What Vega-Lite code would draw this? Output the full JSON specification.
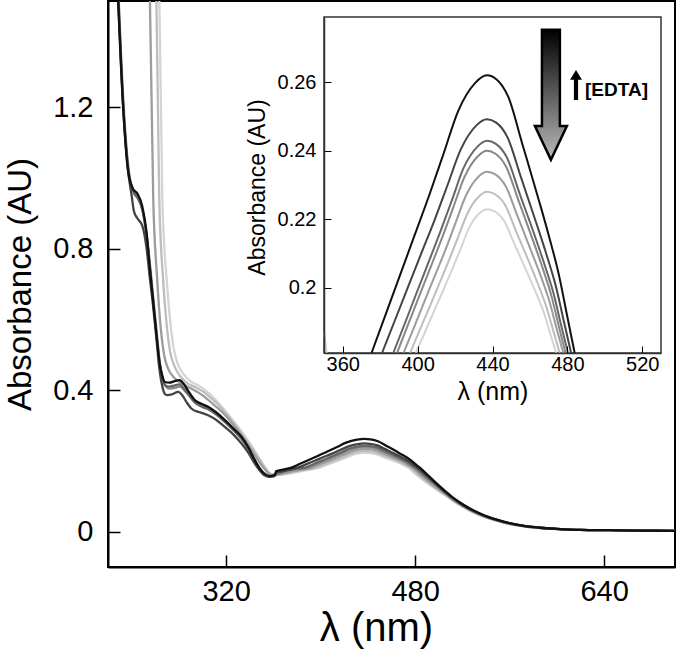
{
"$schema":"https://vega.github.io/schema/vega-lite/v6.json",
"width":567,"height":566,
"autosize":{"type":"none"},
"padding":{"left":108,"top":1,"right":1,"bottom":88},
"background":"white",
"config":{"view":{"stroke":"black","strokeWidth":2},"font":"Liberation Sans","axis":{"grid":false,"labelColor":"black","titleColor":"black","titleFontWeight":"normal","tickColor":"black","domainColor":"black","labelFont":"Liberation Sans","titleFont":"Liberation Sans"}},
"datasets":{
"main":[
{"s":"c7","w":263,"a":1.6},{"s":"c7","w":266,"a":0.94},{"s":"c7","w":269.5,"a":0.72},{"s":"c7","w":272.5,"a":0.6},{"s":"c7","w":275.5,"a":0.52},{"s":"c7","w":279,"a":0.475},{"s":"c7","w":284,"a":0.445},{"s":"c7","w":290,"a":0.425},{"s":"c7","w":297,"a":0.412},{"s":"c7","w":303,"a":0.398},{"s":"c7","w":309,"a":0.38},{"s":"c7","w":315,"a":0.358},{"s":"c7","w":321,"a":0.335},{"s":"c7","w":328,"a":0.305},{"s":"c7","w":335,"a":0.274},{"s":"c7","w":342,"a":0.24},{"s":"c7","w":349,"a":0.203},{"s":"c7","w":355,"a":0.173},{"s":"c7","w":359,"a":0.161},{"s":"c7","w":364,"a":0.16},{"s":"c7","w":374,"a":0.164},{"s":"c7","w":387,"a":0.173},{"s":"c7","w":399,"a":0.181},{"s":"c7","w":403.8,"a":0.1869},{"s":"c7","w":408.5,"a":0.1929},{"s":"c7","w":413.3,"a":0.1988},{"s":"c7","w":418,"a":0.2048},{"s":"c7","w":422.8,"a":0.2111},{"s":"c7","w":427.5,"a":0.2175},{"s":"c7","w":433.2,"a":0.2218},{"s":"c7","w":437,"a":0.2229},{"s":"c7","w":441.1,"a":0.2223},{"s":"c7","w":446.1,"a":0.2196},{"s":"c7","w":451.8,"a":0.2127},{"s":"c7","w":458.9,"a":0.204},{"s":"c7","w":462.9,"a":0.199},{"s":"c7","w":467.6,"a":0.1925},{"s":"c7","w":470.7,"a":0.1869},{"s":"c7","w":474,"a":0.181},{"s":"c7","w":481,"a":0.161},{"s":"c7","w":492,"a":0.133},{"s":"c7","w":503,"a":0.108},{"s":"c7","w":513,"a":0.085},{"s":"c7","w":521,"a":0.069},{"s":"c7","w":530,"a":0.053},{"s":"c7","w":540,"a":0.04},{"s":"c7","w":550,"a":0.03},{"s":"c7","w":560,"a":0.021},{"s":"c7","w":572,"a":0.015},{"s":"c7","w":586,"a":0.01},{"s":"c7","w":600,"a":0.007},{"s":"c7","w":620,"a":0.005},{"s":"c7","w":645,"a":0.004},{"s":"c7","w":670,"a":0.003},{"s":"c7","w":700,"a":0.002},
{"s":"c6","w":260.5,"a":1.6},{"s":"c6","w":263.4,"a":0.94},{"s":"c6","w":266.5,"a":0.72},{"s":"c6","w":269.5,"a":0.59},{"s":"c6","w":272.5,"a":0.51},{"s":"c6","w":276,"a":0.47},{"s":"c6","w":281,"a":0.44},{"s":"c6","w":287,"a":0.42},{"s":"c6","w":294,"a":0.408},{"s":"c6","w":301,"a":0.395},{"s":"c6","w":307,"a":0.378},{"s":"c6","w":313,"a":0.36},{"s":"c6","w":320,"a":0.333},{"s":"c6","w":327,"a":0.305},{"s":"c6","w":334,"a":0.273},{"s":"c6","w":341,"a":0.24},{"s":"c6","w":348,"a":0.204},{"s":"c6","w":354,"a":0.175},{"s":"c6","w":358,"a":0.162},{"s":"c6","w":363,"a":0.161},{"s":"c6","w":372,"a":0.166},{"s":"c6","w":384,"a":0.174},{"s":"c6","w":396,"a":0.181},{"s":"c6","w":401.1,"a":0.1877},{"s":"c6","w":406.3,"a":0.1943},{"s":"c6","w":411.4,"a":0.201},{"s":"c6","w":416.5,"a":0.2077},{"s":"c6","w":421.6,"a":0.2148},{"s":"c6","w":426.8,"a":0.2219},{"s":"c6","w":432.9,"a":0.2267},{"s":"c6","w":437,"a":0.228},{"s":"c6","w":441.3,"a":0.2273},{"s":"c6","w":446.6,"a":0.2243},{"s":"c6","w":452.6,"a":0.2165},{"s":"c6","w":460.1,"a":0.2068},{"s":"c6","w":464.2,"a":0.2012},{"s":"c6","w":469.1,"a":0.1939},{"s":"c6","w":472.4,"a":0.1876},{"s":"c6","w":475.9,"a":0.181},{"s":"c6","w":483,"a":0.16},{"s":"c6","w":494,"a":0.131},{"s":"c6","w":505,"a":0.106},{"s":"c6","w":513,"a":0.086},{"s":"c6","w":521,"a":0.07},{"s":"c6","w":530,"a":0.054},{"s":"c6","w":540,"a":0.04},{"s":"c6","w":550,"a":0.03},{"s":"c6","w":560,"a":0.022},{"s":"c6","w":572,"a":0.015},{"s":"c6","w":586,"a":0.01},{"s":"c6","w":600,"a":0.007},{"s":"c6","w":620,"a":0.005},{"s":"c6","w":645,"a":0.004},{"s":"c6","w":670,"a":0.003},{"s":"c6","w":700,"a":0.002},
{"s":"c5","w":255,"a":1.6},{"s":"c5","w":258.3,"a":0.94},{"s":"c5","w":261.5,"a":0.72},{"s":"c5","w":264.5,"a":0.58},{"s":"c5","w":267.5,"a":0.5},{"s":"c5","w":271,"a":0.46},{"s":"c5","w":276,"a":0.435},{"s":"c5","w":282,"a":0.42},{"s":"c5","w":290,"a":0.405},{"s":"c5","w":298,"a":0.39},{"s":"c5","w":305,"a":0.372},{"s":"c5","w":312,"a":0.352},{"s":"c5","w":319,"a":0.33},{"s":"c5","w":326,"a":0.303},{"s":"c5","w":333,"a":0.272},{"s":"c5","w":340,"a":0.238},{"s":"c5","w":347,"a":0.202},{"s":"c5","w":353,"a":0.175},{"s":"c5","w":358,"a":0.16},{"s":"c5","w":363,"a":0.161},{"s":"c5","w":370,"a":0.166},{"s":"c5","w":380,"a":0.173},{"s":"c5","w":392.5,"a":0.181},{"s":"c5","w":398.1,"a":0.1885},{"s":"c5","w":403.6,"a":0.196},{"s":"c5","w":409.2,"a":0.2035},{"s":"c5","w":414.8,"a":0.211},{"s":"c5","w":420.3,"a":0.219},{"s":"c5","w":425.9,"a":0.227},{"s":"c5","w":432.6,"a":0.2325},{"s":"c5","w":437,"a":0.2339},{"s":"c5","w":441.5,"a":0.2331},{"s":"c5","w":447,"a":0.2297},{"s":"c5","w":453.3,"a":0.221},{"s":"c5","w":461.2,"a":0.21},{"s":"c5","w":465.6,"a":0.2037},{"s":"c5","w":470.7,"a":0.1955},{"s":"c5","w":474.1,"a":0.1884},{"s":"c5","w":477.8,"a":0.181},{"s":"c5","w":485,"a":0.16},{"s":"c5","w":495,"a":0.133},{"s":"c5","w":505,"a":0.108},{"s":"c5","w":513,"a":0.088},{"s":"c5","w":521,"a":0.071},{"s":"c5","w":530,"a":0.055},{"s":"c5","w":540,"a":0.041},{"s":"c5","w":550,"a":0.031},{"s":"c5","w":560,"a":0.022},{"s":"c5","w":572,"a":0.015},{"s":"c5","w":586,"a":0.01},{"s":"c5","w":600,"a":0.007},{"s":"c5","w":620,"a":0.005},{"s":"c5","w":645,"a":0.004},{"s":"c5","w":670,"a":0.003},{"s":"c5","w":700,"a":0.002},
{"s":"c4","w":228,"a":1.59},{"s":"c4","w":233.3,"a":1.2},{"s":"c4","w":237.6,"a":1.02},{"s":"c4","w":241.5,"a":0.96},{"s":"c4","w":245.5,"a":0.94},{"s":"c4","w":249.5,"a":0.905},{"s":"c4","w":253,"a":0.83},{"s":"c4","w":256,"a":0.74},{"s":"c4","w":258.8,"a":0.645},{"s":"c4","w":261.5,"a":0.555},{"s":"c4","w":264,"a":0.475},{"s":"c4","w":266.5,"a":0.432},{"s":"c4","w":269,"a":0.41},{"s":"c4","w":272,"a":0.404},{"s":"c4","w":276,"a":0.406},{"s":"c4","w":281,"a":0.41},{"s":"c4","w":285,"a":0.398},{"s":"c4","w":289,"a":0.383},{"s":"c4","w":294,"a":0.365},{"s":"c4","w":300,"a":0.355},{"s":"c4","w":305,"a":0.35},{"s":"c4","w":312,"a":0.335},{"s":"c4","w":319,"a":0.315},{"s":"c4","w":326,"a":0.292},{"s":"c4","w":333,"a":0.266},{"s":"c4","w":339,"a":0.236},{"s":"c4","w":344.3,"a":0.201},{"s":"c4","w":348.6,"a":0.178},{"s":"c4","w":352,"a":0.165},{"s":"c4","w":357,"a":0.157},{"s":"c4","w":362,"a":0.161},{"s":"c4","w":368,"a":0.168},{"s":"c4","w":378,"a":0.176},{"s":"c4","w":389,"a":0.181},{"s":"c4","w":395,"a":0.1894},{"s":"c4","w":401,"a":0.1978},{"s":"c4","w":407,"a":0.2061},{"s":"c4","w":413,"a":0.2145},{"s":"c4","w":419,"a":0.2234},{"s":"c4","w":425,"a":0.2323},{"s":"c4","w":432.2,"a":0.2384},{"s":"c4","w":437,"a":0.24},{"s":"c4","w":441.6,"a":0.2391},{"s":"c4","w":447.3,"a":0.2353},{"s":"c4","w":453.8,"a":0.2256},{"s":"c4","w":461.9,"a":0.2134},{"s":"c4","w":466.4,"a":0.2064},{"s":"c4","w":471.7,"a":0.1972},{"s":"c4","w":475.2,"a":0.1893},{"s":"c4","w":479,"a":0.181},{"s":"c4","w":487,"a":0.159},{"s":"c4","w":497,"a":0.133},{"s":"c4","w":505,"a":0.111},{"s":"c4","w":513,"a":0.09},{"s":"c4","w":521,"a":0.072},{"s":"c4","w":530,"a":0.056},{"s":"c4","w":540,"a":0.042},{"s":"c4","w":550,"a":0.031},{"s":"c4","w":560,"a":0.023},{"s":"c4","w":572,"a":0.016},{"s":"c4","w":586,"a":0.011},{"s":"c4","w":600,"a":0.008},{"s":"c4","w":620,"a":0.005},{"s":"c4","w":645,"a":0.004},{"s":"c4","w":670,"a":0.003},{"s":"c4","w":700,"a":0.002},
{"s":"c3","w":227.8,"a":1.59},{"s":"c3","w":233,"a":1.2},{"s":"c3","w":237.3,"a":1.02},{"s":"c3","w":241,"a":0.965},{"s":"c3","w":245,"a":0.945},{"s":"c3","w":249,"a":0.91},{"s":"c3","w":252.7,"a":0.835},{"s":"c3","w":255.5,"a":0.745},{"s":"c3","w":258.3,"a":0.65},{"s":"c3","w":261,"a":0.56},{"s":"c3","w":263.7,"a":0.475},{"s":"c3","w":266,"a":0.435},{"s":"c3","w":268.5,"a":0.413},{"s":"c3","w":272,"a":0.41},{"s":"c3","w":276,"a":0.413},{"s":"c3","w":280.5,"a":0.416},{"s":"c3","w":284,"a":0.405},{"s":"c3","w":287.5,"a":0.39},{"s":"c3","w":293.4,"a":0.365},{"s":"c3","w":300,"a":0.352},{"s":"c3","w":304.7,"a":0.346},{"s":"c3","w":312,"a":0.33},{"s":"c3","w":318.9,"a":0.31},{"s":"c3","w":326,"a":0.287},{"s":"c3","w":333,"a":0.262},{"s":"c3","w":339,"a":0.232},{"s":"c3","w":344.3,"a":0.198},{"s":"c3","w":348.6,"a":0.175},{"s":"c3","w":352,"a":0.163},{"s":"c3","w":357,"a":0.156},{"s":"c3","w":361,"a":0.159},{"s":"c3","w":362.5,"a":0.167},{"s":"c3","w":368,"a":0.172},{"s":"c3","w":376,"a":0.177},{"s":"c3","w":387,"a":0.181},{"s":"c3","w":393.3,"a":0.1898},{"s":"c3","w":399.5,"a":0.1986},{"s":"c3","w":405.8,"a":0.2074},{"s":"c3","w":412,"a":0.2162},{"s":"c3","w":418.3,"a":0.2255},{"s":"c3","w":424.5,"a":0.2349},{"s":"c3","w":432,"a":0.2412},{"s":"c3","w":437,"a":0.2429},{"s":"c3","w":441.8,"a":0.242},{"s":"c3","w":447.7,"a":0.238},{"s":"c3","w":454.3,"a":0.2278},{"s":"c3","w":462.7,"a":0.215},{"s":"c3","w":467.3,"a":0.2076},{"s":"c3","w":472.8,"a":0.198},{"s":"c3","w":476.4,"a":0.1897},{"s":"c3","w":480.3,"a":0.181},{"s":"c3","w":488,"a":0.16},{"s":"c3","w":497,"a":0.135},{"s":"c3","w":505,"a":0.112},{"s":"c3","w":513,"a":0.091},{"s":"c3","w":521,"a":0.073},{"s":"c3","w":530,"a":0.057},{"s":"c3","w":540,"a":0.043},{"s":"c3","w":550,"a":0.032},{"s":"c3","w":560,"a":0.023},{"s":"c3","w":572,"a":0.016},{"s":"c3","w":586,"a":0.011},{"s":"c3","w":600,"a":0.008},{"s":"c3","w":620,"a":0.005},{"s":"c3","w":645,"a":0.004},{"s":"c3","w":670,"a":0.003},{"s":"c3","w":700,"a":0.002},
{"s":"c2","w":227.6,"a":1.59},{"s":"c2","w":232.9,"a":1.2},{"s":"c2","w":237,"a":1.02},{"s":"c2","w":240,"a":0.95},{"s":"c2","w":242,"a":0.905},{"s":"c2","w":245,"a":0.885},{"s":"c2","w":249,"a":0.865},{"s":"c2","w":252.7,"a":0.8},{"s":"c2","w":255.3,"a":0.72},{"s":"c2","w":258.1,"a":0.64},{"s":"c2","w":260.9,"a":0.55},{"s":"c2","w":263.5,"a":0.46},{"s":"c2","w":266,"a":0.41},{"s":"c2","w":268,"a":0.39},{"s":"c2","w":270,"a":0.386},{"s":"c2","w":274,"a":0.388},{"s":"c2","w":279.3,"a":0.395},{"s":"c2","w":283,"a":0.385},{"s":"c2","w":286.3,"a":0.367},{"s":"c2","w":290.6,"a":0.348},{"s":"c2","w":297,"a":0.338},{"s":"c2","w":304.7,"a":0.329},{"s":"c2","w":312,"a":0.315},{"s":"c2","w":318.9,"a":0.296},{"s":"c2","w":326,"a":0.275},{"s":"c2","w":333,"a":0.249},{"s":"c2","w":339,"a":0.222},{"s":"c2","w":344.3,"a":0.192},{"s":"c2","w":348.6,"a":0.172},{"s":"c2","w":352,"a":0.16},{"s":"c2","w":357,"a":0.155},{"s":"c2","w":361,"a":0.157},{"s":"c2","w":362.5,"a":0.166},{"s":"c2","w":366,"a":0.169},{"s":"c2","w":372,"a":0.174},{"s":"c2","w":381,"a":0.181},{"s":"c2","w":388,"a":0.1907},{"s":"c2","w":395,"a":0.2004},{"s":"c2","w":402,"a":0.2101},{"s":"c2","w":409,"a":0.2197},{"s":"c2","w":416,"a":0.23},{"s":"c2","w":423,"a":0.2403},{"s":"c2","w":431.4,"a":0.2474},{"s":"c2","w":437,"a":0.2492},{"s":"c2","w":442,"a":0.2482},{"s":"c2","w":448.1,"a":0.2438},{"s":"c2","w":455,"a":0.2326},{"s":"c2","w":463.7,"a":0.2184},{"s":"c2","w":468.5,"a":0.2103},{"s":"c2","w":474.2,"a":0.1997},{"s":"c2","w":478,"a":0.1905},{"s":"c2","w":482,"a":0.181},{"s":"c2","w":490,"a":0.158},{"s":"c2","w":497,"a":0.137},{"s":"c2","w":505,"a":0.113},{"s":"c2","w":513,"a":0.092},{"s":"c2","w":521,"a":0.074},{"s":"c2","w":530,"a":0.058},{"s":"c2","w":540,"a":0.043},{"s":"c2","w":550,"a":0.032},{"s":"c2","w":560,"a":0.023},{"s":"c2","w":572,"a":0.016},{"s":"c2","w":586,"a":0.011},{"s":"c2","w":600,"a":0.008},{"s":"c2","w":620,"a":0.005},{"s":"c2","w":645,"a":0.004},{"s":"c2","w":670,"a":0.003},{"s":"c2","w":700,"a":0.002},
{"s":"c1","w":227.5,"a":1.59},{"s":"c1","w":232.8,"a":1.2},{"s":"c1","w":237,"a":1.02},{"s":"c1","w":241,"a":0.97},{"s":"c1","w":245,"a":0.955},{"s":"c1","w":249,"a":0.92},{"s":"c1","w":252.7,"a":0.844},{"s":"c1","w":255.3,"a":0.749},{"s":"c1","w":258.1,"a":0.655},{"s":"c1","w":260.9,"a":0.56},{"s":"c1","w":263.5,"a":0.48},{"s":"c1","w":266,"a":0.44},{"s":"c1","w":268,"a":0.423},{"s":"c1","w":272,"a":0.421},{"s":"c1","w":276,"a":0.425},{"s":"c1","w":280.5,"a":0.428},{"s":"c1","w":284,"a":0.418},{"s":"c1","w":287.5,"a":0.4},{"s":"c1","w":293.4,"a":0.372},{"s":"c1","w":300,"a":0.36},{"s":"c1","w":304.7,"a":0.353},{"s":"c1","w":312,"a":0.336},{"s":"c1","w":318.9,"a":0.315},{"s":"c1","w":326,"a":0.292},{"s":"c1","w":333,"a":0.268},{"s":"c1","w":339,"a":0.237},{"s":"c1","w":344.3,"a":0.202},{"s":"c1","w":348.6,"a":0.178},{"s":"c1","w":352,"a":0.165},{"s":"c1","w":357,"a":0.157},{"s":"c1","w":361,"a":0.16},{"s":"c1","w":362.5,"a":0.171},{"s":"c1","w":366,"a":0.174},{"s":"c1","w":370,"a":0.177},{"s":"c1","w":375.4,"a":0.181},{"s":"c1","w":383.1,"a":0.1925},{"s":"c1","w":390.8,"a":0.204},{"s":"c1","w":398.5,"a":0.2155},{"s":"c1","w":406.2,"a":0.227},{"s":"c1","w":413.9,"a":0.2392},{"s":"c1","w":421.6,"a":0.2515},{"s":"c1","w":430.8,"a":0.2598},{"s":"c1","w":437,"a":0.262},{"s":"c1","w":442.2,"a":0.2608},{"s":"c1","w":448.5,"a":0.2556},{"s":"c1","w":455.8,"a":0.2422},{"s":"c1","w":464.8,"a":0.2255},{"s":"c1","w":469.8,"a":0.2158},{"s":"c1","w":475.7,"a":0.2032},{"s":"c1","w":479.7,"a":0.1923},{"s":"c1","w":483.9,"a":0.181},{"s":"c1","w":490,"a":0.162},{"s":"c1","w":497,"a":0.14},{"s":"c1","w":505,"a":0.116},{"s":"c1","w":513,"a":0.094},{"s":"c1","w":521,"a":0.076},{"s":"c1","w":530,"a":0.059},{"s":"c1","w":540,"a":0.044},{"s":"c1","w":550,"a":0.033},{"s":"c1","w":560,"a":0.024},{"s":"c1","w":572,"a":0.016},{"s":"c1","w":586,"a":0.011},{"s":"c1","w":600,"a":0.008},{"s":"c1","w":620,"a":0.005},{"s":"c1","w":645,"a":0.004},{"s":"c1","w":670,"a":0.003},{"s":"c1","w":700,"a":0.002}
],
"inset":[
{"s":"c8","w":350.2,"a":0.1867},{"s":"c8","w":351.4,"a":0.181},
{"s":"c7","w":399,"a":0.181},{"s":"c7","w":403.8,"a":0.1869},{"s":"c7","w":408.5,"a":0.1929},{"s":"c7","w":413.3,"a":0.1988},{"s":"c7","w":418,"a":0.2048},{"s":"c7","w":422.8,"a":0.2111},{"s":"c7","w":427.5,"a":0.2175},{"s":"c7","w":433.2,"a":0.2218},{"s":"c7","w":437,"a":0.2229},{"s":"c7","w":441.1,"a":0.2223},{"s":"c7","w":446.1,"a":0.2196},{"s":"c7","w":451.8,"a":0.2127},{"s":"c7","w":458.9,"a":0.204},{"s":"c7","w":462.9,"a":0.199},{"s":"c7","w":467.6,"a":0.1925},{"s":"c7","w":470.7,"a":0.1869},{"s":"c7","w":474,"a":0.181},
{"s":"c6","w":396,"a":0.181},{"s":"c6","w":401.1,"a":0.1877},{"s":"c6","w":406.3,"a":0.1943},{"s":"c6","w":411.4,"a":0.201},{"s":"c6","w":416.5,"a":0.2077},{"s":"c6","w":421.6,"a":0.2148},{"s":"c6","w":426.8,"a":0.2219},{"s":"c6","w":432.9,"a":0.2267},{"s":"c6","w":437,"a":0.228},{"s":"c6","w":441.3,"a":0.2273},{"s":"c6","w":446.6,"a":0.2243},{"s":"c6","w":452.6,"a":0.2165},{"s":"c6","w":460.1,"a":0.2068},{"s":"c6","w":464.2,"a":0.2012},{"s":"c6","w":469.1,"a":0.1939},{"s":"c6","w":472.4,"a":0.1876},{"s":"c6","w":475.9,"a":0.181},
{"s":"c5","w":392.5,"a":0.181},{"s":"c5","w":398.1,"a":0.1885},{"s":"c5","w":403.6,"a":0.196},{"s":"c5","w":409.2,"a":0.2035},{"s":"c5","w":414.8,"a":0.211},{"s":"c5","w":420.3,"a":0.219},{"s":"c5","w":425.9,"a":0.227},{"s":"c5","w":432.6,"a":0.2325},{"s":"c5","w":437,"a":0.2339},{"s":"c5","w":441.5,"a":0.2331},{"s":"c5","w":447,"a":0.2297},{"s":"c5","w":453.3,"a":0.221},{"s":"c5","w":461.2,"a":0.21},{"s":"c5","w":465.6,"a":0.2037},{"s":"c5","w":470.7,"a":0.1955},{"s":"c5","w":474.1,"a":0.1884},{"s":"c5","w":477.8,"a":0.181},
{"s":"c4","w":389,"a":0.181},{"s":"c4","w":395,"a":0.1894},{"s":"c4","w":401,"a":0.1978},{"s":"c4","w":407,"a":0.2061},{"s":"c4","w":413,"a":0.2145},{"s":"c4","w":419,"a":0.2234},{"s":"c4","w":425,"a":0.2323},{"s":"c4","w":432.2,"a":0.2384},{"s":"c4","w":437,"a":0.24},{"s":"c4","w":441.6,"a":0.2391},{"s":"c4","w":447.3,"a":0.2353},{"s":"c4","w":453.8,"a":0.2256},{"s":"c4","w":461.9,"a":0.2134},{"s":"c4","w":466.4,"a":0.2064},{"s":"c4","w":471.7,"a":0.1972},{"s":"c4","w":475.2,"a":0.1893},{"s":"c4","w":479,"a":0.181},
{"s":"c3","w":387,"a":0.181},{"s":"c3","w":393.3,"a":0.1898},{"s":"c3","w":399.5,"a":0.1986},{"s":"c3","w":405.8,"a":0.2074},{"s":"c3","w":412,"a":0.2162},{"s":"c3","w":418.3,"a":0.2255},{"s":"c3","w":424.5,"a":0.2349},{"s":"c3","w":432,"a":0.2412},{"s":"c3","w":437,"a":0.2429},{"s":"c3","w":441.8,"a":0.242},{"s":"c3","w":447.7,"a":0.238},{"s":"c3","w":454.3,"a":0.2278},{"s":"c3","w":462.7,"a":0.215},{"s":"c3","w":467.3,"a":0.2076},{"s":"c3","w":472.8,"a":0.198},{"s":"c3","w":476.4,"a":0.1897},{"s":"c3","w":480.3,"a":0.181},
{"s":"c2","w":381,"a":0.181},{"s":"c2","w":388,"a":0.1907},{"s":"c2","w":395,"a":0.2004},{"s":"c2","w":402,"a":0.2101},{"s":"c2","w":409,"a":0.2197},{"s":"c2","w":416,"a":0.23},{"s":"c2","w":423,"a":0.2403},{"s":"c2","w":431.4,"a":0.2474},{"s":"c2","w":437,"a":0.2492},{"s":"c2","w":442,"a":0.2482},{"s":"c2","w":448.1,"a":0.2438},{"s":"c2","w":455,"a":0.2326},{"s":"c2","w":463.7,"a":0.2184},{"s":"c2","w":468.5,"a":0.2103},{"s":"c2","w":474.2,"a":0.1997},{"s":"c2","w":478,"a":0.1905},{"s":"c2","w":482,"a":0.181},
{"s":"c1","w":375.4,"a":0.181},{"s":"c1","w":383.1,"a":0.1925},{"s":"c1","w":390.8,"a":0.204},{"s":"c1","w":398.5,"a":0.2155},{"s":"c1","w":406.2,"a":0.227},{"s":"c1","w":413.9,"a":0.2392},{"s":"c1","w":421.6,"a":0.2515},{"s":"c1","w":430.8,"a":0.2598},{"s":"c1","w":437,"a":0.262},{"s":"c1","w":442.2,"a":0.2608},{"s":"c1","w":448.5,"a":0.2556},{"s":"c1","w":455.8,"a":0.2422},{"s":"c1","w":464.8,"a":0.2255},{"s":"c1","w":469.8,"a":0.2158},{"s":"c1","w":475.7,"a":0.2032},{"s":"c1","w":479.7,"a":0.1923},{"s":"c1","w":483.9,"a":0.181}
]
},
"layer":[
{"data":{"name":"main"},
 "mark":{"type":"line","clip":true,"strokeWidth":2.3,"interpolate":"monotone"},
 "encoding":{
  "x":{"field":"w","type":"quantitative","scale":{"domain":[220,700],"nice":false,"zero":false},
       "axis":{"orient":"bottom","values":[320,480,640],"tickSize":-12,"tickWidth":1.5,"domainWidth":2,"labelFontSize":29,"labelPadding":22,"title":"λ (nm)","titleFontSize":40,"titleX":268,"titleY":73,"titleBaseline":"alphabetic"}},
  "y":{"field":"a","type":"quantitative","scale":{"domain":[-0.1,1.5],"nice":false,"zero":false},
       "axis":{"orient":"left","values":[0,0.4,0.8,1.2],"format":"~g","tickSize":-12,"tickWidth":1.5,"domainWidth":2,"labelFontSize":29,"labelPadding":27,"title":"Absorbance (AU)","titleFontSize":33,"titleX":-78,"titleY":283,"titleAngle":-90,"titleBaseline":"alphabetic"}},
  "color":{"field":"s","type":"nominal","scale":{"domain":["c1","c2","c3","c4","c5","c6","c7","c8"],"range":["#111111","#444444","#666666","#888888","#9c9c9c","#bdbdbd","#d4d4d4","#d4d4d4"]},"legend":null}
 }},
{"encoding":{
  "x":{"field":"w","type":"quantitative","scale":{"domain":[350,530],"range":[216,553],"nice":false,"zero":false},
       "axis":{"orient":"bottom","offset":-214,"zindex":2,"values":[360,400,440,480,520],"tickSize":-7,"tickWidth":1,"domainWidth":1.5,"domainColor":"#333333","labelFontSize":20,"labelPadding":8,"title":"λ (nm)","titleFontSize":25,"titleY":46,"titleBaseline":"alphabetic"}},
  "y":{"field":"a","type":"quantitative","scale":{"domain":[0.181,0.279],"range":[352,16],"nice":false,"zero":false},
       "axis":{"orient":"left","offset":-216,"zindex":2,"values":[0.2,0.22,0.24,0.26],"format":"~g","tickSize":-7,"tickWidth":1,"domainWidth":1.5,"domainColor":"#333333","labelFontSize":20,"labelPadding":15,"title":"Absorbance (AU)","titleFontSize":23,"titleX":-60,"titleY":186,"titleAngle":-90,"titleBaseline":"alphabetic"}}
 },
 "layer":[
  {"data":{"values":[{"w":350,"w2":530,"a":0.181,"a2":0.279}]},
   "mark":{"type":"rect","fill":"white","stroke":"#333333","strokeWidth":1.5},
   "encoding":{"x2":{"field":"w2"},"y2":{"field":"a2"}}},
  {"data":{"name":"inset"},
   "mark":{"type":"line","strokeWidth":2,"interpolate":"monotone"},
   "encoding":{
    "color":{"field":"s","type":"nominal","scale":{"domain":["c1","c2","c3","c4","c5","c6","c7","c8"],"range":["#111111","#444444","#666666","#888888","#9c9c9c","#bdbdbd","#d4d4d4","#d4d4d4"]},"legend":null}
   }},
  {"data":{"values":[{"w":471.2,"a":0.2563}]},
   "mark":{"type":"point","shape":"M-0.138,-1L0.138,-1L0.138,0.48L0.246,0.48L0,1L-0.246,0.48L-0.138,0.48Z","size":16900,"filled":true,"opacity":1,"stroke":"black","strokeWidth":2.5,
     "fill":{"gradient":"linear","x1":0,"y1":0,"x2":0,"y2":1,"stops":[{"offset":0,"color":"#000000"},{"offset":1,"color":"#bbbbbb"}]}}},
  {"data":{"values":[{"w":484.6,"a":0.2592}]},
   "mark":{"type":"point","shape":"M0,-1L0.4,-0.35L0.14,-0.35L0.14,1L-0.14,1L-0.14,-0.35L-0.4,-0.35Z","size":900,"filled":true,"opacity":1,"fill":"black","strokeWidth":0}},
  {"data":{"values":[{"w":489.4,"a":0.256,"t":"[EDTA]"}]},
   "mark":{"type":"text","align":"left","baseline":"alphabetic","fontSize":19,"fontWeight":"bold","font":"Liberation Sans","color":"black"},
   "encoding":{"text":{"field":"t"}}}
 ]}
],
"resolve":{"scale":{"x":"independent","y":"independent"},"axis":{"x":"independent","y":"independent"}}
}
